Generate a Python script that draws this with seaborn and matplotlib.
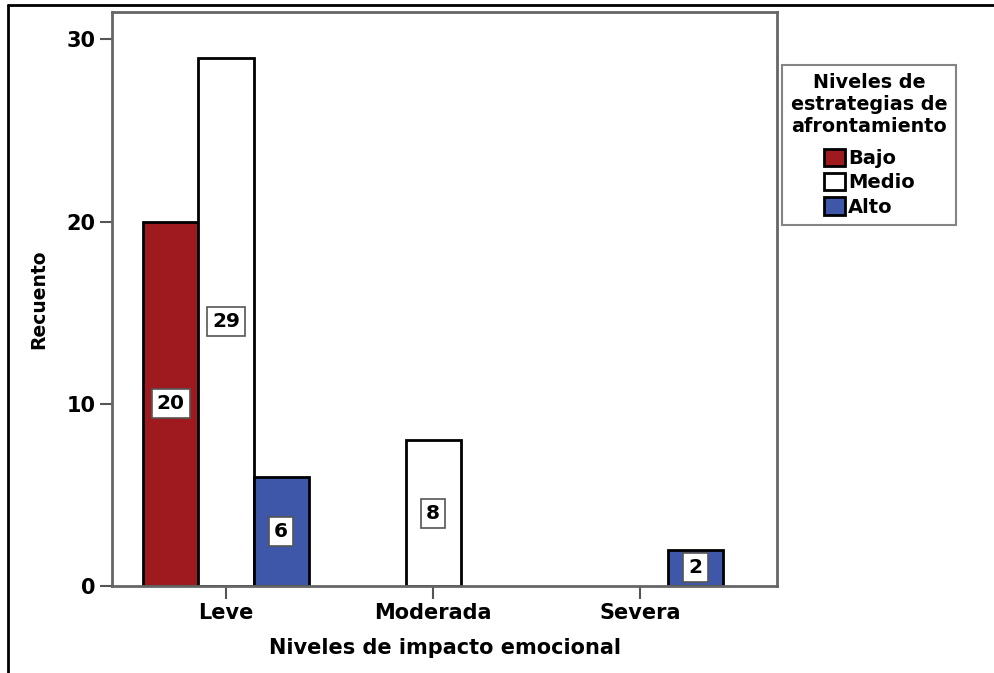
import matplotlib
matplotlib.use("Agg")
import matplotlib.pyplot as plt
import seaborn as sns
import pandas as pd
from matplotlib.lines import Line2D

# Counts per emotional-impact level and coping-strategy level
impacto = ["Leve", "Leve", "Leve", "Moderada", "Severa"]
estrategia = ["Bajo", "Medio", "Alto", "Medio", "Alto"]
recuento = [20, 29, 6, 8, 2]

categorias = ["Leve", "Moderada", "Severa"]
niveles = ["Bajo", "Medio", "Alto"]
colores = {"Bajo": "#9E1A1F", "Medio": "#FFFFFF", "Alto": "#3E57A8"}
yticks = [0, 10, 20, 30]

df = pd.DataFrame({"impacto": impacto, "estrategia": estrategia, "recuento": recuento})

sns.set_theme(style="white")
plt.rcParams["font.family"] = ["DejaVu Sans"]
plt.rcParams["font.weight"] = "bold"
plt.rcParams["text.color"] = "black"
plt.rcParams["axes.labelcolor"] = "black"
plt.rcParams["xtick.labelcolor"] = "black"
plt.rcParams["ytick.labelcolor"] = "black"

FS = 15

fig = plt.figure(figsize=(9.94, 6.73), dpi=100)
ax = fig.add_axes([0.1127, 0.1293, 0.6690, 0.8529])

sns.barplot(data=df, x="impacto", y="recuento", hue="estrategia",
            order=categorias, hue_order=niveles, palette=colores,
            width=0.8, edgecolor="black", linewidth=2, saturation=1,
            errorbar=None, ax=ax)

ax.set_xlim(-0.55, 2.66)
ax.set_ylim(0, 31.5)
ax.set_yticks(yticks)
ax.set_yticklabels([str(t) for t in yticks])

# value labels centred on each bar
for cont in ax.containers:
    for bar in cont:
        h = bar.get_height()
        if h and h > 0:
            ax.text(bar.get_x() + bar.get_width() / 2, h / 2, f"{int(h)}",
                    ha="center", va="center", fontsize=FS - 0.5, fontweight="bold",
                    color="black",
                    bbox=dict(boxstyle="square,pad=0.25", facecolor="white",
                              edgecolor="#555555", linewidth=1.2))

for s in ax.spines.values():
    s.set_visible(True)
    s.set_color("#666666")
    s.set_linewidth(2)

ax.tick_params(axis="both", which="major", direction="out", length=9,
               width=1.5, color="#555555", labelsize=FS, pad=3,
               bottom=True, left=True, labelcolor="black")
for lab in ax.get_xticklabels() + ax.get_yticklabels():
    lab.set_fontweight("bold")

ax.set_xlabel("Niveles de impacto emocional", fontsize=FS, fontweight="bold",
              labelpad=11, color="black")
ax.set_ylabel("Recuento", fontsize=FS - 1.5, fontweight="bold", labelpad=13,
              color="black")

ax.legend_.remove()
handles = [plt.Rectangle((0, 0), 1, 1, facecolor=colores[n], edgecolor="black", linewidth=2)
           for n in niveles]
leg = fig.legend(handles, niveles, title="Niveles de\nestrategias de\nafrontamiento",
                 loc="upper left", bbox_to_anchor=(0.787, 0.904), borderaxespad=0,
                 fontsize=FS - 1, title_fontsize=FS - 1.2, frameon=True, fancybox=False,
                 edgecolor="#666666", handlelength=1.1, handleheight=1.0,
                 handletextpad=0.15, labelspacing=0.25, borderpad=0.45)
leg.get_frame().set_linewidth(1.5)
plt.setp(leg.get_title(), fontweight="bold", multialignment="center", color="black")
leg._legend_box.sep = 9
for t in leg.get_texts():
    t.set_fontweight("bold")
    t.set_color("black")

# outer frame lines (top and left)
fig.add_artist(Line2D([0.008, 1.0], [0.9926, 0.9926], transform=fig.transFigure,
                      color="black", linewidth=2))
fig.add_artist(Line2D([0.008, 0.008], [0.0, 0.9926], transform=fig.transFigure,
                      color="black", linewidth=2))

fig.savefig("out.png", dpi=100)
